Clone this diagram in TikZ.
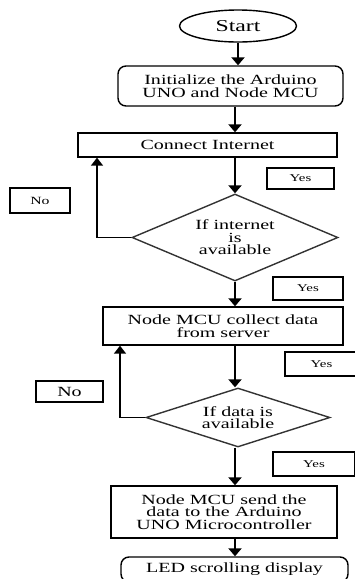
\documentclass[tikz,border=0pt]{standalone}
\usepackage{fontspec}
\setmainfont{Liberation Serif}[FakeStretch=1.43]
\usetikzlibrary{
		positioning,
		arrows.meta,
		shapes.geometric
	}
\tikzset{
		>=stealth
	}
\tikzset{
	flow/.style={draw=black, line width=0.7pt, inner sep=0pt, align=center, font=\fontsize{7}{6.3}\selectfont},
	process/.style={flow, rectangle},
	roundproc/.style={flow, rectangle, rounded corners=4pt},
	decision/.style={flow, diamond, draw=black!80},
	terminal/.style={flow, ellipse, font=\fontsize{8.3}{9}\selectfont},
	answer/.style={draw=black, line width=0.7pt, inner sep=0pt, font=\fontsize{#1}{#1}\selectfont},
	answer/.default=5.2,
	arr/.style={line width=1.2pt, -{Triangle[width=6.5pt,length=4pt]}},
	backarr/.style={line width=0.8pt, -{Triangle[width=6pt,length=4pt]}}
}

\begin{document}
\begin{tikzpicture}[x=0.5pt, y=-0.5pt] % (one unit = one pixel of the 354x579 sheet, y runs down)
	\useasboundingbox (0,0) rectangle (354,579);
	% the flow, top to bottom
	\node[terminal, minimum width=58.5pt, minimum height=16pt] (start) at (238,26) {Start};
	\node[roundproc, minimum width=112.5pt, minimum height=20pt] (init) at (230.5,86) {Initialize the Arduino\\UNO and Node MCU};
	\node[process, minimum width=129.5pt, minimum height=12pt] (conn) at (207.5,145) {Connect Internet};
	\node[decision, aspect=2.4, minimum width=103pt, minimum height=43.5pt] (dec1) at (235,237.5) {If internet\\is\\available};
	\node[process, minimum width=120pt, minimum height=19pt] (coll) at (223,326) {Node MCU collect data\\from server};
	\node[decision, aspect=3.1, minimum width=92pt, minimum height=29.5pt] (dec2) at (238,417.5) {If data is\\available};
	\node[process, minimum width=113pt, minimum height=26pt] (send) at (224,512) {Node MCU send the\\data to the Arduino\\UNO Microcontroller};
	\node[roundproc, minimum width=113.5pt, minimum height=12.5pt] (led) at (234.5,569.5) {LED scrolling display};
	% yes / no boxes
	\node[answer, minimum width=33.5pt, minimum height=10.5pt] (yes1) at (300.5,178.5) {Yes};
	\node[answer=5.5, minimum width=30pt, minimum height=12.5pt] (no1) at (40,200.5) {No};
	\node[answer, minimum width=35pt, minimum height=11.5pt] (yes2) at (308,288.5) {Yes};
	\node[answer, minimum width=36.5pt, minimum height=12pt] (yes3) at (321.5,364) {Yes};
	\node[answer=7, minimum width=33.5pt, minimum height=10.5pt] (no2) at (69.5,391.5) {No};
	\node[answer, minimum width=41pt, minimum height=12pt] (yes4) at (314,464) {Yes};
	% return lines
	\coordinate (back1) at (97,0);
	\coordinate (back2) at (120,0);
	\draw[arr] (start) -- (init.north -| start);
	\draw[arr] (init.south -| dec1) -- (conn.north -| dec1);
	\draw[arr] (conn.south -| dec1) -- (dec1.north);
	\draw[arr] (dec1.south) -- (coll.north -| dec1);
	\draw[arr] (coll.south -| dec1) -- (dec2.north -| dec1);
	\draw[arr] (dec2.south -| dec1) -- (send.north -| dec1);
	\draw[arr] (send.south -| dec1) -- (led.north -| dec1);
	\draw[backarr] (dec1.west) -| (conn.south -| back1);
	\draw[backarr] (dec2.west) -| (coll.south -| back2);
\end{tikzpicture}
\end{document}
